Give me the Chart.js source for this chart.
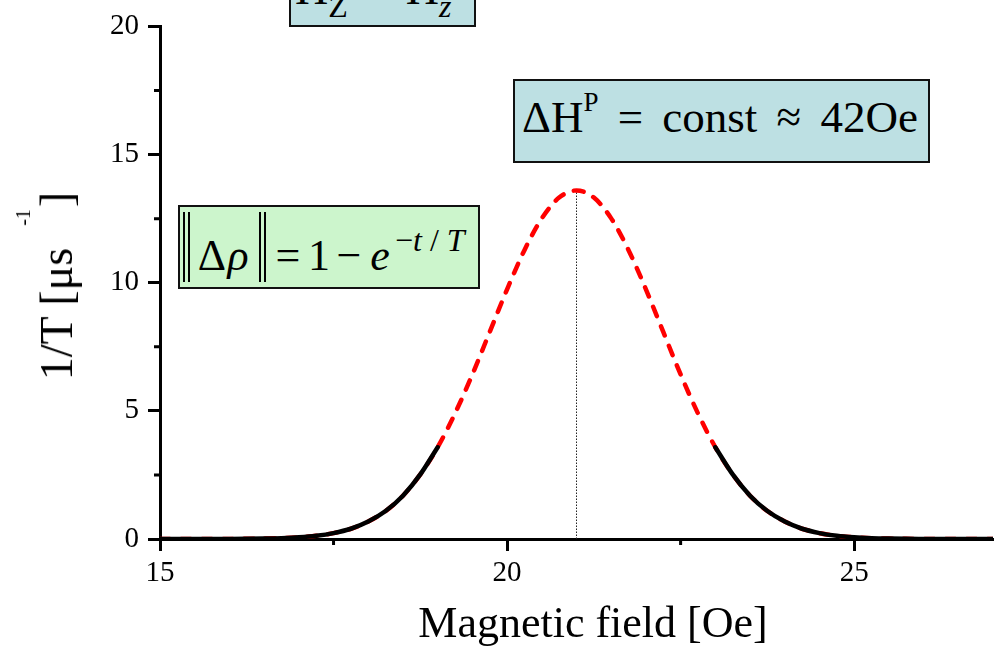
<!DOCTYPE html>
<html>
<head>
<meta charset="utf-8">
<script src="https://cdn.jsdelivr.net/npm/chart.js@4/dist/chart.umd.min.js"></script>
<style>
  body { margin: 0; background: #fff; }
  #wrap { position: relative; width: 1000px; height: 648px; overflow: hidden; font-family: "Liberation Serif", "Times New Roman", serif; color: #000; }
  #wrap canvas { position: absolute; left: 0; top: 0; }
  .box { position: absolute; box-sizing: border-box; border: 2px solid #111; }
  .txt { position: absolute; white-space: nowrap; }
  .rel { position: relative; }
  .bar { position: absolute; width: 2px; background: #000; top: 212px; height: 70px; }
  .eq { font-size: 44px; line-height: 44px; top: 234px; transform: translateX(-50%); }
</style>
</head>
<body>
<div id="wrap">
  <canvas id="chart" width="1000" height="648"></canvas>

  <!-- annotation boxes -->
  <div class="box" style="left:289px; top:-40px; width:187px; height:67px; background:#bde0e3;"></div>
  <div class="txt" style="left:295px; top:-34px; font-size:46px; line-height:46px;">H<span class="rel" style="font-size:32px; top:13px;">Z</span><span style="display:inline-block; width:58px;"></span>H<span class="rel" style="font-size:32px; top:13px; font-style:italic;">z</span></div>

  <div class="box" style="left:513px; top:79px; width:417px; height:84px; background:#bde0e3;"></div>
  <div class="txt" style="left:522px; top:95px; font-size:45px; line-height:45px; word-spacing:8px;">ΔH<span class="rel" style="font-size:27px; top:-21px;">P</span> = const ≈ 42Oe</div>

  <div class="box" style="left:178px; top:205px; width:302px; height:84px; background:#ccf5cc;"></div>
  <div class="bar" style="left:183px;"></div><div class="bar" style="left:188px;"></div>
  <div class="bar" style="left:259px;"></div><div class="bar" style="left:264px;"></div>
  <div class="txt eq" style="left:212px;">Δ</div>
  <div class="txt eq" style="left:238px;"><i>ρ</i></div>
  <div class="txt eq" style="left:288px;">=</div>
  <div class="txt eq" style="left:319px;">1</div>
  <div class="txt eq" style="left:349px;">−</div>
  <div class="txt eq" style="left:380px;"><i>e</i></div>
  <div class="txt" style="left:395px; top:224px; font-size:32px; line-height:32px;">−<i>t</i> / <i>T</i></div>

  <!-- axis titles -->
  <div class="txt" style="left:593px; top:601px; font-size:44px; line-height:44px; transform:translateX(-50%);">Magnetic field [Oe]</div>
  <div class="txt" style="left:61px; top:286px; font-size:46px; line-height:46px; transform:translate(-50%,-50%) rotate(-90deg);">1/T [μs<span style="display:inline-block; width:22px;"></span><span class="rel" style="font-size:20px; top:-42px;">-1</span><span style="display:inline-block; width:2px;"></span>]</div>
</div>

<script>
// magnetic field [Oe]
const fieldValues = [
  15, 15.25, 15.5, 15.75, 16, 16.25, 16.5, 16.75, 17, 17.25, 17.5, 17.75,
  18, 18.25, 18.5, 18.75, 19, 19.25, 19.5, 19.75, 20, 20.25, 20.5, 20.75,
  21, 21.25, 21.5, 21.75, 22, 22.25, 22.5, 22.75, 23, 23.25, 23.5, 23.75,
  24, 24.25, 24.5, 24.75, 25, 25.25, 25.5, 25.75, 26, 26.25, 26.5, 26.75, 27
];
// 1/T [us^-1]
const rateValues = [
  0, 0, 0, 0.001, 0.003, 0.007, 0.016, 0.033, 0.066, 0.125, 0.23, 0.40,
  0.68, 1.09, 1.69, 2.52, 3.58, 4.90, 6.42, 8.08, 9.74, 11.27, 12.51, 13.32,
  13.6, 13.32, 12.51, 11.27, 9.74, 8.08, 6.42, 4.90, 3.58, 2.52, 1.69, 1.09,
  0.68, 0.40, 0.23, 0.125, 0.066, 0.033, 0.016, 0.007, 0.003, 0.001, 0, 0, 0
];
const solidBelow = 19;   // black solid part ends here
const solidAbove = 23;   // and starts again here
const peakField = 21;
const peakRate = 13.6;

const xTicksMajor = [15, 20, 25];
const xTicksMinor = [17.5, 22.5];
const yTicksMinor = [2.5, 7.5, 12.5, 17.5];

const allPoints = fieldValues.map((x, i) => ({ x: x, y: rateValues[i] }));
const leftTail = allPoints.filter(p => p.x <= solidBelow);
const rightTail = allPoints.filter(p => p.x >= solidAbove);

const tickFont = { family: "'Liberation Serif', 'Times New Roman', serif", size: 29 };

// minor ticks, shorter than the major ones
const minorTicks = {
  id: 'minorTicks',
  afterDraw(chart) {
    const ctx = chart.ctx;
    const xs = chart.scales.x, ys = chart.scales.y;
    ctx.save();
    ctx.strokeStyle = '#000';
    ctx.lineWidth = 3;
    ctx.beginPath();
    yTicksMinor.forEach(v => {
      const py = ys.getPixelForValue(v);
      ctx.moveTo(xs.left - 6, py);
      ctx.lineTo(xs.left, py);
    });
    xTicksMinor.forEach(v => {
      const px = xs.getPixelForValue(v);
      ctx.moveTo(px, ys.bottom);
      ctx.lineTo(px, ys.bottom + 6);
    });
    ctx.stroke();
    ctx.restore();
  }
};

new Chart(document.getElementById('chart'), {
  type: 'scatter',
  data: {
    datasets: [
      {
        data: leftTail,
        showLine: true,
        borderColor: '#000',
        borderWidth: 4.5,
        borderCapStyle: 'round',
        pointRadius: 0,
        cubicInterpolationMode: 'monotone'
      },
      {
        data: rightTail,
        showLine: true,
        borderColor: '#000',
        borderWidth: 4.5,
        borderCapStyle: 'round',
        pointRadius: 0,
        cubicInterpolationMode: 'monotone'
      },
      {
        data: allPoints,
        showLine: true,
        borderColor: '#ff0000',
        borderWidth: 4.5,
        borderDash: [10, 11],
        borderCapStyle: 'round',
        pointRadius: 0,
        cubicInterpolationMode: 'monotone'
      },
      {
        data: [{ x: peakField, y: 0 }, { x: peakField, y: peakRate }],
        showLine: true,
        borderColor: '#222',
        borderWidth: 1,
        borderDash: [1.5, 1.5],
        pointRadius: 0
      }
    ]
  },
  options: {
    responsive: false,
    animation: false,
    layout: { padding: { top: 22, right: 7, left: 0, bottom: 0 } },
    plugins: { legend: { display: false }, tooltip: { enabled: false } },
    scales: {
      x: {
        type: 'linear',
        min: 15,
        max: 27,
        afterFit: s => { s.height = 109; },
        afterBuildTicks: s => { s.ticks = xTicksMajor.map(v => ({ value: v })); },
        border: { color: '#000', width: 3 },
        grid: { drawOnChartArea: false, drawTicks: true, tickLength: 12, tickWidth: 3, tickColor: '#000' },
        ticks: { color: '#000', font: tickFont, padding: 5, maxRotation: 0 }
      },
      y: {
        min: 0,
        max: 20,
        afterFit: s => { s.width = 160; },
        border: { color: '#000', width: 3 },
        grid: { drawOnChartArea: false, drawTicks: true, tickLength: 12, tickWidth: 3, tickColor: '#000' },
        ticks: { stepSize: 5, color: '#000', font: tickFont, padding: 9 }
      }
    }
  },
  plugins: [minorTicks]
});
</script>
</body>
</html>
